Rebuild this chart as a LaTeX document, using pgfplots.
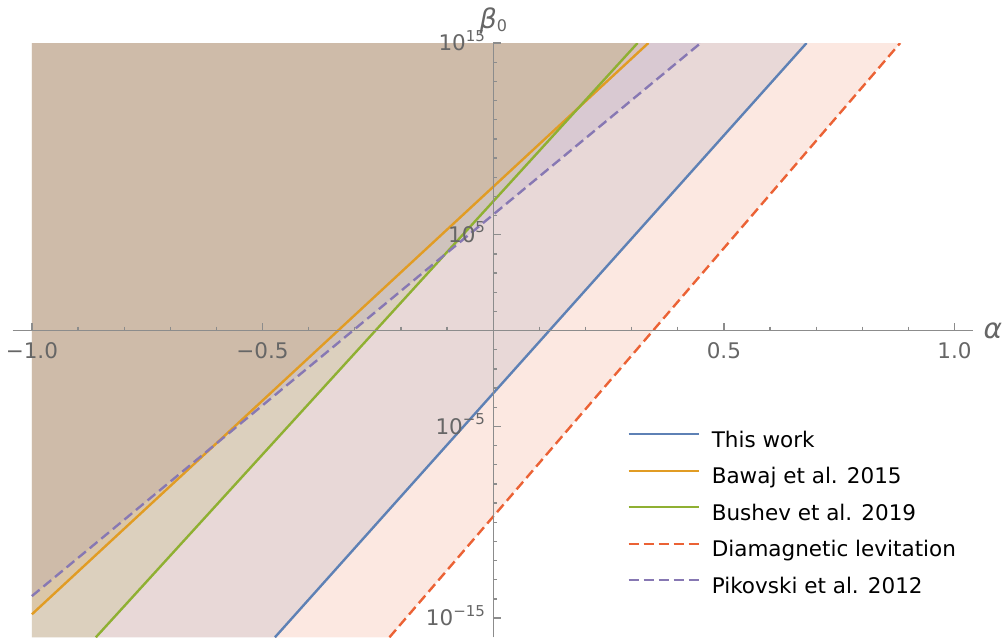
\documentclass[border=0pt]{standalone}
\usepackage{fontspec}
\setmainfont{DejaVu Sans}
\usepackage{pgfplots}
\pgfplotsset{compat=1.18}
\definecolor{cblue}{RGB}{94,129,181}
\definecolor{corange}{RGB}{225,156,36}
\definecolor{cgreen}{RGB}{143,176,50}
\definecolor{cred}{RGB}{235,98,53}
\definecolor{cpurple}{RGB}{135,120,179}
\definecolor{axgray}{RGB}{140,140,140}
\definecolor{lblgray}{RGB}{102,102,102}
\newcommand\fs{\fontsize{21.5bp}{26bp}\selectfont}
\newcommand\pw[1]{10\raisebox{0.45em}{\fontsize{15bp}{15bp}\selectfont #1}}
\begin{document}
\begin{tikzpicture}
\begin{axis}[name=ax, scale only axis, width=960.5bp, height=594bp,
  xmin=-1.042, xmax=1.041, ymode=log, ymin=1e-16, ymax=1e15,
  axis lines=middle, axis on top,
  axis line style={-, draw=axgray, line width=1.4bp},
  xtick align=outside, ytick align=outside,
  major tick length=-7.5bp, minor tick length=-4bp,
  xtick style={draw=axgray, line width=1.3bp},
  ytick style={draw=axgray, line width=1.3bp},
  minor x tick style={draw=axgray, line width=1.3bp},
  minor y tick style={draw=axgray, line width=1.3bp},
  xtick={-1,-0.5,0.5,1}, xticklabels={−1.0,−0.5,0.5,1.0},
  minor xtick={-0.9,-0.8,-0.7,-0.6,-0.4,-0.3,-0.2,-0.1,0.1,0.2,0.3,0.4,0.6,0.7,0.8,0.9},
  ytick={1e-15,1e-5,1e5,1e15}, yticklabels={\pw{−15},\pw{−5},\pw{5},\pw{15}},
  minor ytick={1e-14,1e-13,1e-12,1e-11,1e-10,1e-9,1e-8,1e-7,1e-6,1e-4,1e-3,1e-2,1e-1,1e1,1e2,1e3,1e4,1e6,1e7,1e8,1e9,1e10,1e11,1e12,1e13,1e14},
  xticklabel style={font=\fs, text=lblgray, anchor=north, inner sep=0pt, yshift=-19.5bp},
  yticklabel style={font=\fs, text=lblgray, anchor=base east, inner sep=0pt, xshift=-15.5bp, yshift=-7.8bp},
  xlabel={\textit{α}}, ylabel={\textit{β}\raisebox{-0.12em}{\fontsize{16bp}{16bp}\selectfont 0}},
  every axis x label/.style={at={(axis description cs:1,0.5161)}, anchor=west, inner sep=0pt, xshift=10bp, font=\fontsize{28bp}{28bp}\selectfont, text=lblgray},
  every axis y label/.style={at={(axis description cs:0.5003,1)}, anchor=south, inner sep=0pt, yshift=9bp, font=\fontsize{27bp}{27bp}\selectfont, text=lblgray},
  legend style={draw=none, fill=none, at={(0.6398,0.3468)}, anchor=north west, inner sep=0pt, outer sep=0pt, font=\fs, text=black, row sep=15.5bp,
    nodes={inner sep=0pt, text height=16bp, text depth=5bp},
    /tikz/every odd column/.style={column sep=12bp}},
  legend cell align=left,
  legend image code/.code={\draw[#1] (0bp,7.5bp) -- (70bp,7.5bp);},
]
% filled excluded regions (above each bound)
\addplot[draw=none, fill=cblue, fill opacity=0.15, forget plot] coordinates {(-0.4732,1e-16) (0.6792,1e15) (-1,1e15) (-1,1e-16)} -- cycle;
\addplot[draw=none, fill=corange, fill opacity=0.15, forget plot] coordinates {(-1,1.585e-15) (0.3363,1e15) (-1,1e15)} -- cycle;
\addplot[draw=none, fill=cgreen, fill opacity=0.15, forget plot] coordinates {(-0.8614,1e-16) (0.3129,1e15) (-1,1e15) (-1,1e-16)} -- cycle;
\addplot[draw=none, fill=cred, fill opacity=0.15, forget plot] coordinates {(-0.225,1e-16) (0.8821,1e15) (-1,1e15) (-1,1e-16)} -- cycle;
\addplot[draw=none, fill=cpurple, fill opacity=0.15, forget plot] coordinates {(-1,1.413e-14) (0.4497,1e15) (-1,1e15)} -- cycle;
% bounds
\addplot[cblue, line width=2.4bp] coordinates {(-0.4732,1e-16) (0.6792,1e15)};
\addlegendentry{This work}
\addplot[corange, line width=2.4bp] coordinates {(-1,1.585e-15) (0.3363,1e15)};
\addlegendentry{Bawaj et al. 2015}
\addplot[cgreen, line width=2.4bp] coordinates {(-0.8614,1e-16) (0.3129,1e15)};
\addlegendentry{Bushev et al. 2019}
\addplot[cred, line width=2.4bp, dash pattern=on 10bp off 5bp] coordinates {(-0.225,1e-16) (0.8821,1e15)};
\addlegendentry{Diamagnetic levitation}
\addplot[cpurple, line width=2.4bp, dash pattern=on 10bp off 5bp] coordinates {(-1,1.413e-14) (0.4497,1e15)};
\addlegendentry{Pikovski et al. 2012}
\end{axis}
\pgfresetboundingbox
\path ([xshift=-12.5bp]ax.south west) rectangle ([xshift=34.5bp,yshift=43bp]ax.north east);
\end{tikzpicture}
\end{document}
